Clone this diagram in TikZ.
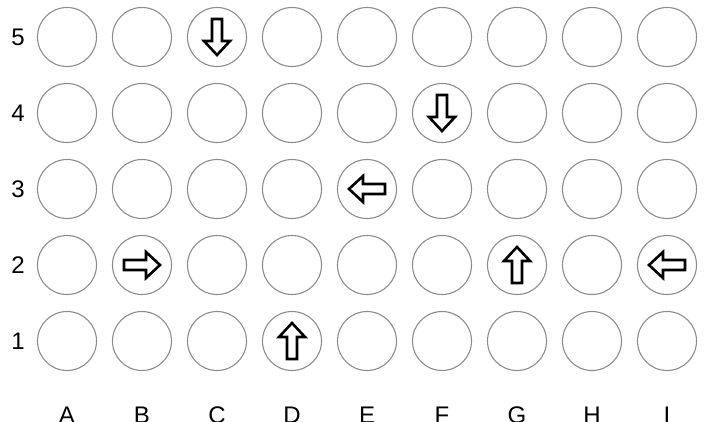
\documentclass[tikz,border=0pt]{standalone}
\usepackage{fontspec}
\setmainfont{Liberation Sans}
\begin{document}
\begin{tikzpicture}[x=1pt,y=-1pt,
  well/.style={circle,draw=black!45,line width=1.1pt,minimum size=59pt,inner sep=0pt},
  lbl/.style={font=\fontsize{24}{28}\selectfont,text=black,inner sep=0pt},
  hollowarrow/.pic={
    \draw[line width=2.6pt,line join=miter,fill=white]
      (-18,-5) -- (4,-5) -- (4,-13) -- (18,0) -- (4,13) -- (4,5) -- (-18,5) -- cycle;
  }]
\useasboundingbox (0,0) rectangle (709,421);
\foreach \c [count=\i from 0] in {A,B,C,D,E,F,G,H,I} {
  \foreach \r in {1,...,5} {
    \node[well] (w-\c\r) at ({67+75*\i},{37+76*(5-\r)}) {};
  }
  \node[lbl,anchor=base] (col-\c) at ({67+75*\i},423) {\c};
}
\foreach \r in {1,...,5} {
  \node[lbl] (row-\r) at (18,{37+76*(5-\r)}) {\r};
}
\pic[rotate=-90] at (w-C5) {hollowarrow};
\pic[rotate=-90] at (w-F4) {hollowarrow};
\pic[rotate=180] at (w-E3) {hollowarrow};
\pic at (w-B2) {hollowarrow};
\pic[rotate=90] at (w-G2) {hollowarrow};
\pic[rotate=180] at (w-I2) {hollowarrow};
\pic[rotate=90] at (w-D1) {hollowarrow};
\end{tikzpicture}
\end{document}
